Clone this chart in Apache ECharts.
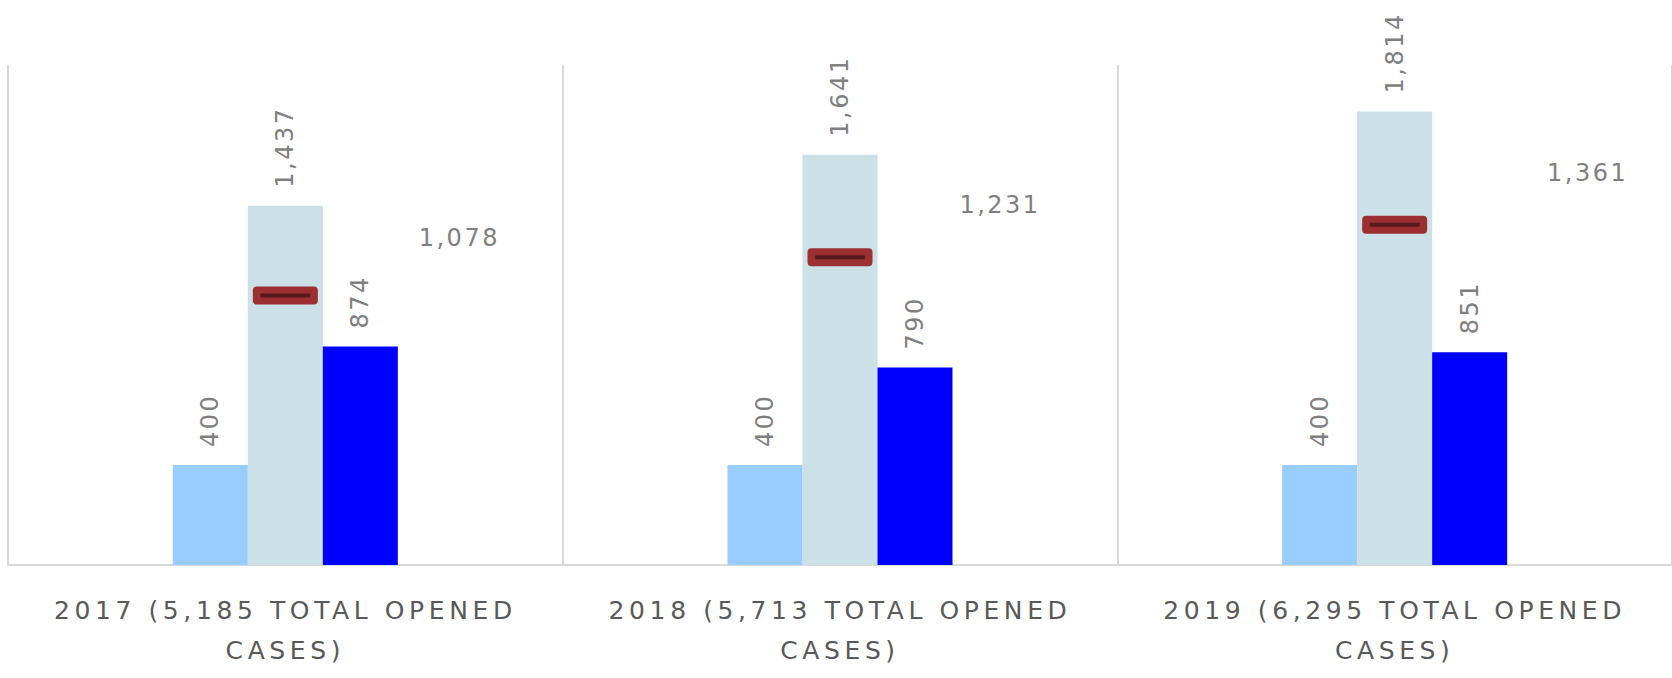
<!DOCTYPE html>
<html>
<head>
<meta charset="utf-8">
<script src="https://cdn.jsdelivr.net/npm/echarts@6/dist/echarts.min.js"></script>
<style>
  html, body { margin: 0; padding: 0; background: #fff; }
  #main { width: 1672px; height: 678px; }
  /* the original uses spaced-out lettering */
  #main text { letter-spacing: 2.5px; }
  #main text[style*="25px"] { letter-spacing: 4.6px; }
</style>
</head>
<body>
<div id="main"></div>
<script>
var categories = ['2017 (5,185 TOTAL OPENED CASES)', '2018 (5,713 TOTAL OPENED CASES)', '2019 (6,295 TOTAL OPENED CASES)'];
var targetCases = [400, 400, 400];
var peakCases = [1437, 1641, 1814];
var currentCases = [874, 790, 851];
var averageCases = [1078, 1231, 1361];
// where the average label sits relative to its marker
var averageLabelOffsets = [[174, -58], [160, -52], [193, -52]];

var fmt = function (v) { return Number(v).toLocaleString('en-US'); };

var labelFont = 'DejaVu Sans';

function barLabel() {
    return {
        show: true,
        position: 'top',
        rotate: 90,
        align: 'left',
        verticalAlign: 'middle',
        distance: 18,
        color: '#7f7f7f',
        fontFamily: labelFont,
        fontSize: 24,
        formatter: function (p) { return fmt(p.value); }
    };
}

var myChart = echarts.init(document.getElementById('main'), null, { renderer: 'svg' });

myChart.setOption({
    animation: false,
    grid: { left: 8, top: 65, width: 1665, height: 500 },
    xAxis: {
        type: 'category',
        data: categories,
        axisLine: { show: true, lineStyle: { color: '#d9d9d9', width: 2 } },
        axisTick: { show: false },
        splitLine: { show: true, lineStyle: { color: '#d9d9d9', width: 2 } },
        axisLabel: {
            color: '#595959',
            fontFamily: labelFont,
            fontSize: 25,
            lineHeight: 40,
            margin: 25,
            formatter: function (v) { return v.replace(' CASES)', '\nCASES)'); }
        }
    },
    yAxis: {
        type: 'value',
        min: 0,
        max: 2000,
        show: false,
        splitLine: { show: false }
    },
    series: [
        {
            name: 'Target',
            type: 'bar',
            data: targetCases,
            barWidth: 75,
            barGap: '0%',
            itemStyle: { color: '#99ccff' },
            label: barLabel()
        },
        {
            name: 'Peak',
            type: 'bar',
            data: peakCases,
            barWidth: 75,
            barGap: '0%',
            itemStyle: { color: '#cce0e8' },
            label: barLabel()
        },
        {
            name: 'Current',
            type: 'bar',
            data: currentCases,
            barWidth: 75,
            barGap: '0%',
            itemStyle: { color: '#0000ff' },
            label: barLabel()
        },
        {
            name: 'Average',
            type: 'scatter',
            data: averageCases.map(function (v, i) {
                return {
                    value: v,
                    label: { offset: averageLabelOffsets[i] }
                };
            }),
            symbol: 'path://M4,0 H61 Q65,0 65,4 V14 Q65,18 61,18 H4 Q0,18 0,14 V4 Q0,0 4,0 Z',
            symbolSize: [65, 18],
            symbolKeepAspect: false,
            itemStyle: { color: '#9c2f31', opacity: 1 },
            label: {
                show: true,
                position: 'inside',
                color: '#7f7f7f',
                fontFamily: labelFont,
                fontSize: 24,
                formatter: function (p) { return fmt(p.value); }
            },
            z: 3
        },
        {
            name: 'Average line',
            type: 'scatter',
            data: averageCases,
            symbol: 'rect',
            symbolSize: [50, 4],
            itemStyle: { color: '#571a1b', opacity: 1 },
            silent: true,
            z: 4
        }
    ]
});
</script>
</body>
</html>
